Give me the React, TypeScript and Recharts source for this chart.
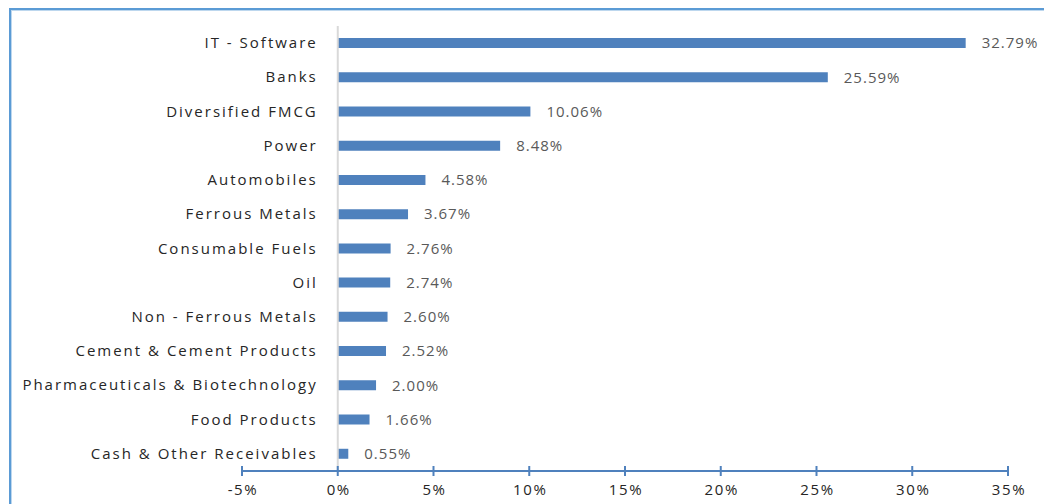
import React from 'react'
import {
  BarChart,
  Bar,
  XAxis,
  YAxis,
  ReferenceLine,
  LabelList,
} from 'recharts'

// --- Data ---

const sectors = [
  'IT - Software',
  'Banks',
  'Diversified FMCG',
  'Power',
  'Automobiles',
  'Ferrous Metals',
  'Consumable Fuels',
  'Oil',
  'Non - Ferrous Metals',
  'Cement & Cement Products',
  'Pharmaceuticals & Biotechnology',
  'Food Products',
  'Cash & Other Receivables',
]

const weights = [32.79, 25.59, 10.06, 8.48, 4.58, 3.67, 2.76, 2.74, 2.6, 2.52, 2.0, 1.66, 0.55]

const xTicks = [-5, 0, 5, 10, 15, 20, 25, 30, 35]

// --- Layout ---

const WIDTH = 1044
const HEIGHT = 504
const MARGIN = { top: 26, right: 36, bottom: 0, left: 0 }
const Y_AXIS_WIDTH = 242
const X_AXIS_HEIGHT = 33
const DOMAIN: [number, number] = [-5, 35]
const BAR_COLOR = '#4F81BD'
const FONT = '"Open Sans", sans-serif'

const plotWidth = WIDTH - MARGIN.left - MARGIN.right - Y_AXIS_WIDTH
const zeroX = MARGIN.left + Y_AXIS_WIDTH + ((0 - DOMAIN[0]) / (DOMAIN[1] - DOMAIN[0])) * plotWidth

const data = sectors.map((name, i) => ({ name, value: weights[i] }))

function CategoryTick({ y, payload }: any) {
  return (
    <text
      x={zeroX - 20}
      y={y}
      dy={5}
      textAnchor="end"
      fill="#262626"
      fontSize={15}
      fontFamily={FONT}
      letterSpacing={2}
    >
      {payload.value}
    </text>
  )
}

function PercentTick({ x, y, payload }: any) {
  return (
    <g>
      <line x1={x} x2={x} y1={y - 5} y2={y + 5} stroke={BAR_COLOR} strokeWidth={2} />
      <text
        x={x + 1}
        y={y + 24}
        textAnchor="middle"
        fill="#262626"
        fontSize={15}
        fontFamily={FONT}
        letterSpacing={1.6}
      >
        {`${payload.value}%`}
      </text>
    </g>
  )
}

export default function App() {
  return (
    <div style={{ position: 'fixed', left: 0, top: 0, width: WIDTH, height: HEIGHT, overflow: 'hidden', background: '#fff' }}>
      <div
        style={{
          position: 'absolute',
          left: 9,
          top: 8,
          width: WIDTH + 40,
          height: HEIGHT + 40,
          border: '2px solid #5B9BD5',
          boxShadow: 'inset 0 0 0 1px #BDD7EE',
        }}
      />
      <div style={{ position: 'absolute', left: 0, top: 0 }}>
        <BarChart width={WIDTH} height={HEIGHT} data={data} layout="vertical" margin={MARGIN}>
          <XAxis
            type="number"
            domain={DOMAIN}
            ticks={xTicks}
            interval={0}
            height={X_AXIS_HEIGHT}
            axisLine={{ stroke: BAR_COLOR, strokeWidth: 2 }}
            tickLine={false}
            tickSize={0}
            tickMargin={0}
            tick={<PercentTick />}
          />
          <YAxis
            type="category"
            dataKey="name"
            width={Y_AXIS_WIDTH}
            axisLine={false}
            tickLine={false}
            interval={0}
            tick={<CategoryTick />}
          />
          <ReferenceLine x={0} stroke="#D9D9D9" strokeWidth={2} />
          <Bar dataKey="value" fill={BAR_COLOR} barSize={10} isAnimationActive={false}>
            <LabelList
              dataKey="value"
              position="right"
              offset={16}
              formatter={(v: number) => `${v.toFixed(2)}%`}
              fill="#595959"
              fontSize={15}
              fontFamily={FONT}
              letterSpacing={1}
            />
          </Bar>
        </BarChart>
      </div>
    </div>
  )
}
